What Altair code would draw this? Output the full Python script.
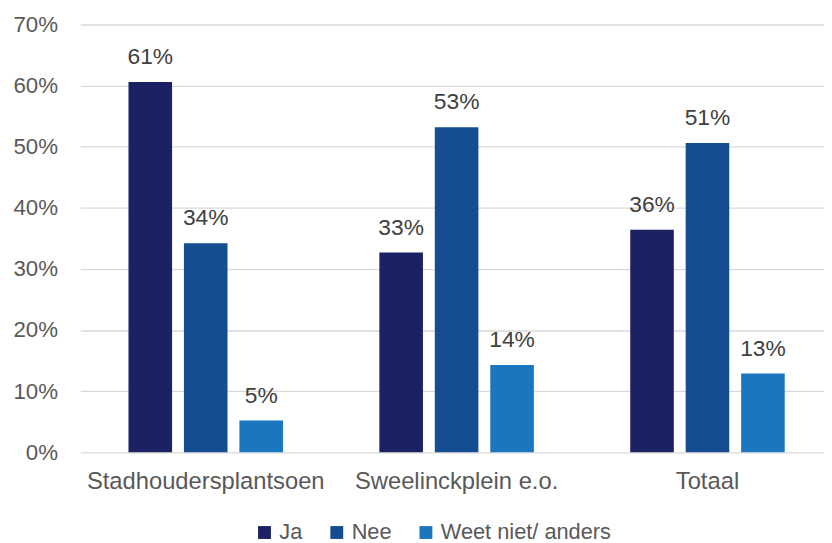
import altair as alt
import pandas as pd

categories = ["Stadhoudersplantsoen", "Sweelinckplein e.o.", "Totaal"]
series = ["Ja", "Nee", "Weet niet/ anders"]
ja = [0.606, 0.327, 0.364]
nee = [0.342, 0.532, 0.506]
weet = [0.052, 0.143, 0.129]
colors = ["#1b2162", "#144e91", "#1c76bf"]
y_ticks = [0.0, 0.1, 0.2, 0.3, 0.4, 0.5, 0.6, 0.7]

rows = []
for i, c in enumerate(categories):
    for s, vals in zip(series, [ja, nee, weet]):
        rows.append({"categorie": c, "antwoord": s, "aandeel": vals[i]})
df = pd.DataFrame(rows)

FONT = "Liberation Sans"

x = alt.X(
    "categorie:N", sort=categories, title=None,
    scale=alt.Scale(range=[0, 760], paddingInner=0, paddingOuter=0),
    axis=alt.Axis(labelAngle=0, labelFont=FONT, labelFontSize=24, labelColor="#595959",
                  labelPadding=18, labelLimit=0, ticks=False, tickSize=0, domain=False,
                  grid=False),
)
xo = alt.XOffset("antwoord:N", sort=series,
                 scale=alt.Scale(paddingInner=0.214, paddingOuter=0.869))
y = alt.Y(
    "aandeel:Q", title=None,
    scale=alt.Scale(domain=[0, 0.7], nice=False),
    axis=alt.Axis(values=y_ticks, format=".0%", labelFont=FONT, labelFontSize=22.5,
                  labelColor="#595959", labelPadding=23, ticks=False, tickSize=0,
                  domain=False, grid=True, gridColor="#d9d9d9", gridWidth=1.3),
)

bars = alt.Chart(df).mark_bar().encode(
    x=x, xOffset=xo, y=y,
    color=alt.Color(
        "antwoord:N", sort=series,
        scale=alt.Scale(domain=series, range=colors),
        legend=alt.Legend(orient="none", legendX=175, legendY=502, direction="horizontal",
                          title=None, symbolType="square", symbolSize=169,
                          symbolStrokeWidth=0, labelFont=FONT, labelFontSize=22,
                          labelColor="#595959", labelLimit=0, columnPadding=23,
                          labelOffset=4, padding=0),
    ),
)

labels = alt.Chart(df).mark_text(
    dy=-18, baseline="alphabetic", font=FONT, fontSize=23, color="#404040"
).encode(
    x=x, xOffset=xo, y=y,
    text=alt.Text("aandeel:Q", format=".0%"),
)

chart = (
    alt.layer(bars, labels)
    .properties(
        width=751, height=432,
        autosize=alt.AutoSizeParams(type="none"),
        padding={"left": 73, "top": 14, "right": 0, "bottom": 95},
    )
    .configure_view(stroke=None)
)

chart.save("out.html", embed_options={"renderer": "svg", "actions": False})
